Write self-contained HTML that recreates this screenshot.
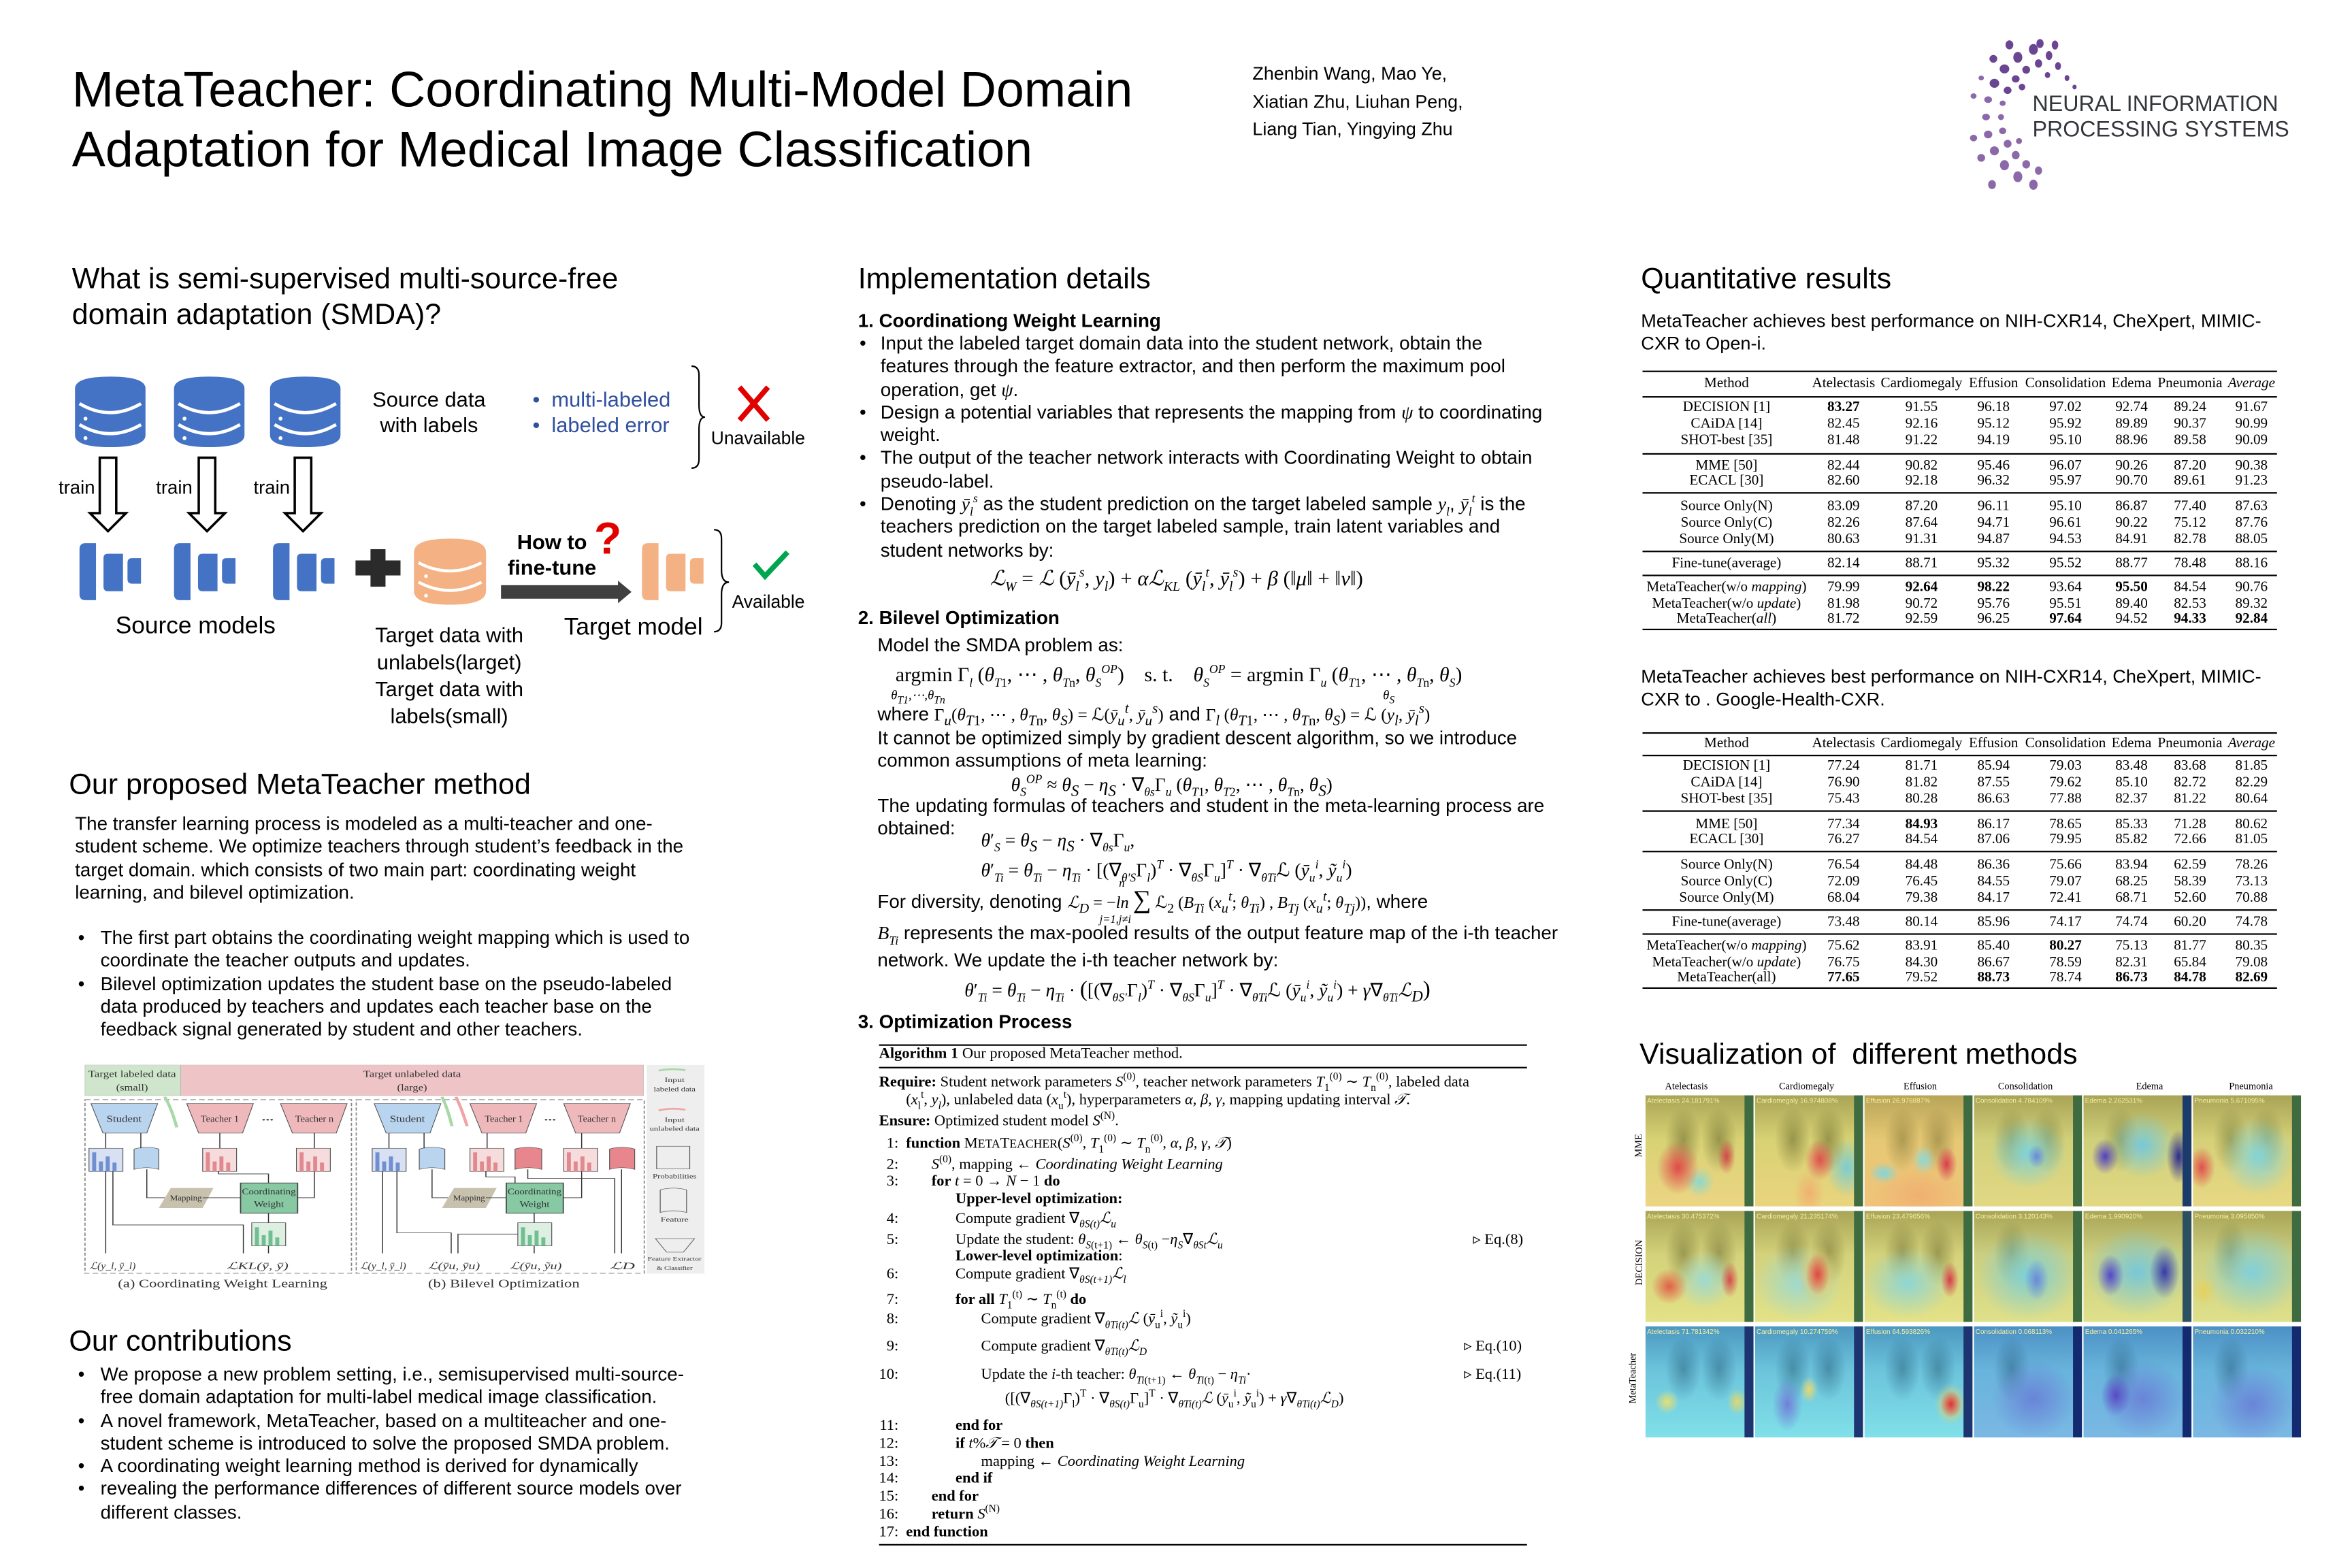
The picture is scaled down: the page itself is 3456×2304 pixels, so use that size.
<!DOCTYPE html>
<html><head><meta charset="utf-8">
<style>
html,body{margin:0;padding:0;background:#fff;}
body{width:3456px;height:2304px;overflow:hidden;position:relative;}
#p{position:absolute;left:0;top:0;width:1568px;height:1045px;transform:scale(2.2041,2.2048);transform-origin:0 0;font-family:"Liberation Sans",Arial,sans-serif;color:#000;}
sub,sup{line-height:0;}
.t{position:absolute;white-space:nowrap;}
.h{font-size:19.5px;line-height:24px;}
.b{font-size:12.6px;line-height:15.3px;}
.s{font-family:"Liberation Serif","Times New Roman",serif;}
.m{font-family:"Liberation Serif","Times New Roman",serif;font-style:italic;}
.tb{position:absolute;left:1095px;width:423px;}
.ln{position:absolute;left:0;width:423px;background:#000;}
.r{position:absolute;left:0;width:423px;height:11px;font-family:"Liberation Serif","Times New Roman",serif;font-size:9.6px;line-height:11px;}
.r i{position:absolute;font-style:normal;transform:translateX(-50%);white-space:nowrap;}
.c0{left:56px}.c1{left:134px}.c2{left:186px}.c3{left:234px}.c4{left:282px}.c5{left:326px}.c6{left:365px}.c7{left:406px}
.alg{font-family:"Liberation Serif","Times New Roman",serif;font-size:10.2px;line-height:12px;}
.n{position:absolute;width:16px;text-align:right;left:583px;}
.tile{position:absolute;width:72px;height:74px;overflow:hidden;}
.tile:after{content:"";position:absolute;right:0;top:0;width:6px;height:100%;background:var(--edge);}
.tl{position:absolute;left:1px;top:1px;font-size:4.5px;color:#f4f0a0;white-space:nowrap;}
</style></head><body><div id="p">

<!-- Header -->
<div class="t" style="left:48px;top:41px;font-size:33.4px;line-height:40px;">MetaTeacher: Coordinating Multi-Model Domain</div>
<div class="t" style="left:48px;top:81px;font-size:33.4px;line-height:40px;">Adaptation for Medical Image Classification</div>
<div class="t" style="left:835px;top:40px;font-size:12.2px;line-height:18.5px;">Zhenbin Wang, Mao Ye,<br>Xiatian Zhu, Liuhan Peng,<br>Liang Tian, Yingying Zhu</div>

<svg class="t" style="left:1300px;top:25px" width="110" height="110" viewBox="1300 25 110 110">
<g fill="#6a4592">
<ellipse cx="1355.6" cy="32.9" rx="3" ry="3.6"/><ellipse cx="1345.2" cy="38.2" rx="3" ry="3.6"/><ellipse cx="1336.3" cy="45.9" rx="3.2" ry="3"/><ellipse cx="1329.6" cy="55.5" rx="3.2" ry="3"/>
<ellipse cx="1359" cy="42.3" rx="2.4" ry="2.8"/><ellipse cx="1350.8" cy="46.5" rx="2.6" ry="2.6"/><ellipse cx="1343.8" cy="52.6" rx="2.6" ry="2.4"/><ellipse cx="1338.4" cy="60.2" rx="2.6" ry="2.4"/>
<ellipse cx="1339.6" cy="29.9" rx="2.6" ry="3"/><ellipse cx="1328.9" cy="39.2" rx="2.6" ry="2.6"/><ellipse cx="1366" cy="37" rx="2.2" ry="3"/><ellipse cx="1372" cy="44" rx="2" ry="2.6"/>
<ellipse cx="1365" cy="50" rx="1.8" ry="2"/><ellipse cx="1378" cy="52" rx="1.6" ry="2"/><ellipse cx="1383" cy="58" rx="1.4" ry="1.6"/><ellipse cx="1348" cy="58" rx="2.2" ry="2.2"/>
<ellipse cx="1370" cy="30" rx="2.2" ry="3"/><ellipse cx="1360" cy="29" rx="2.4" ry="3"/>
</g>
<g fill="#8b69a9">
<ellipse cx="1325.4" cy="66.4" rx="2.6" ry="2.2"/><ellipse cx="1324" cy="78" rx="2.6" ry="2.2"/><ellipse cx="1325.4" cy="89.6" rx="2.8" ry="2.6"/><ellipse cx="1329.6" cy="100.5" rx="3" ry="3"/>
<ellipse cx="1336.3" cy="110.1" rx="3" ry="3.4"/><ellipse cx="1345.2" cy="117.8" rx="3" ry="3.6"/><ellipse cx="1355.6" cy="123.1" rx="2.8" ry="3.4"/>
<ellipse cx="1335.1" cy="68.8" rx="2" ry="1.8"/><ellipse cx="1334" cy="78" rx="2" ry="2"/><ellipse cx="1335.1" cy="87.2" rx="2.4" ry="2.2"/><ellipse cx="1338.4" cy="95.8" rx="2.6" ry="2.6"/>
<ellipse cx="1343.8" cy="103.4" rx="2.6" ry="2.8"/><ellipse cx="1350.8" cy="109.5" rx="2.6" ry="2.8"/><ellipse cx="1359" cy="113.7" rx="2.4" ry="2.8"/>
<ellipse cx="1315.7" cy="92" rx="2.4" ry="2.2"/><ellipse cx="1320.8" cy="105.2" rx="2.6" ry="2.6"/><ellipse cx="1315.7" cy="64" rx="2" ry="1.8"/><ellipse cx="1320.8" cy="52" rx="1.8" ry="1.6"/>
<ellipse cx="1346" cy="94" rx="2" ry="2"/><ellipse cx="1328" cy="123" rx="2.6" ry="3"/>
</g></svg>
<div class="t" style="left:1355px;top:62px;font-size:14.6px;line-height:17px;color:#33363b;">NEURAL INFORMATION<br>PROCESSING SYSTEMS</div>

<!-- Column 1 -->
<div class="t h" style="left:48px;top:174px;">What is semi-supervised multi-source-free</div>
<div class="t h" style="left:48px;top:198px;">domain adaptation (SMDA)?</div>

<svg class="t" style="left:0;top:230px" width="560" height="270" viewBox="0 230 560 270">
<defs>
<g id="db"><path d="M0,8 Q0,0 23.5,0 Q47,0 47,8 L47,39 Q47,47 23.5,47 Q0,47 0,39 Z"/></g>
</defs>
<g fill="#4472c4">
<use href="#db" x="50" y="251"/><use href="#db" x="116" y="251"/><use href="#db" x="180" y="251"/>
</g>
<g fill="none" stroke="#fff" stroke-width="2.2">
<path d="M53,269 Q73.5,281 94,269"/><path d="M53,283 Q73.5,295 94,283"/>
<path d="M119,269 Q139.5,281 160,269"/><path d="M119,283 Q139.5,295 160,283"/>
<path d="M183,269 Q203.5,281 224,269"/><path d="M183,283 Q203.5,295 224,283"/>
</g>
<g fill="#fff"><circle cx="57" cy="279" r="1.3"/><circle cx="57" cy="292" r="1.3"/><circle cx="123" cy="279" r="1.3"/><circle cx="123" cy="292" r="1.3"/><circle cx="187" cy="279" r="1.3"/><circle cx="187" cy="292" r="1.3"/></g>
<g fill="#fff" stroke="#000" stroke-width="1.6">
<path d="M66.5,305 L77.5,305 L77.5,342 L84,342 L72,354 L60,342 L66.5,342 Z"/>
<path d="M132.5,305 L143.5,305 L143.5,342 L150,342 L138,354 L126,342 L132.5,342 Z"/>
<path d="M196.5,305 L207.5,305 L207.5,342 L214,342 L202,354 L190,342 L196.5,342 Z"/>
</g>
<g font-family="Liberation Sans,Arial,sans-serif" font-size="12.5" fill="#000">
<text x="39" y="329">train</text><text x="104" y="329">train</text><text x="169" y="329">train</text>
</g>
<g fill="#4472c4">
<path d="M57,362 L64,362 L64,400 L57,400 Q53,400 53,396 L53,366 Q53,362 57,362Z"/><path d="M72,369 L82,369 L82,394 L72,394 Q69,394 69,391 L69,372 Q69,369 72,369Z"/><path d="M88,372 L94,372 L94,389 L88,389 Q85,389 85,386 L85,375 Q85,372 88,372Z"/>
<path d="M120,362 L127,362 L127,400 L120,400 Q116,400 116,396 L116,366 Q116,362 120,362Z"/><path d="M135,369 L145,369 L145,394 L135,394 Q132,394 132,391 L132,372 Q132,369 135,369Z"/><path d="M151,372 L157,372 L157,389 L151,389 Q148,389 148,386 L148,375 Q148,372 151,372Z"/>
<path d="M186,362 L193,362 L193,400 L186,400 Q182,400 182,396 L182,366 Q182,362 186,362Z"/><path d="M201,369 L211,369 L211,394 L201,394 Q198,394 198,391 L198,372 Q198,369 201,369Z"/><path d="M217,372 L223,372 L223,389 L217,389 Q214,389 214,386 L214,375 Q214,372 217,372Z"/>
</g>
<g fill="#2b2b2b"><rect x="237" y="373.5" width="30" height="10"/><rect x="247" y="366" width="10" height="25"/></g>
<path d="M276,368 Q276,359 300,359 Q324,359 324,368 L324,394 Q324,403 300,403 Q276,403 276,394 Z" fill="#f4b183"/>
<g fill="none" stroke="#fff" stroke-width="2"><path d="M279,375 Q300,386 321,375"/><path d="M279,388 Q300,399 321,388"/></g>
<g fill="#fff"><circle cx="284" cy="384" r="1.2"/><circle cx="284" cy="397" r="1.2"/></g>
<path d="M334,390 L412,390 L412,387 L421,394.5 L412,402 L412,399 L334,399 Z" fill="#404040"/>
<g fill="#f4b183">
<path d="M432,362 L439,362 L439,400 L432,400 Q428,400 428,396 L428,366 Q428,362 432,362Z"/><path d="M447,369 L457,369 L457,394 L447,394 Q444,394 444,391 L444,372 Q444,369 447,369Z"/><path d="M463,372 L469,372 L469,389 L463,389 Q460,389 460,386 L460,375 Q460,372 463,372Z"/>
</g>
<g fill="none" stroke="#000" stroke-width="1">
<path d="M461,244 Q466,244 466,250 L466,270 Q466,278 470,278 Q466,278 466,286 L466,306 Q466,312 461,312"/>
<path d="M476,353 Q481,353 481,359 L481,380 Q481,388 486,388 Q481,388 481,396 L481,415 Q481,421 476,421"/>
</g>
<g stroke="#e00000" stroke-width="3.5"><path d="M493,258 L512,280"/><path d="M512,258 L493,280"/></g>
<path d="M503,376 L510,384 L525,368" fill="none" stroke="#00a550" stroke-width="3.5"/>
</svg>
<div class="t" style="left:245px;top:258px;font-size:14px;line-height:17px;text-align:center;width:82px;">Source data<br>with labels</div>
<div class="t" style="left:355px;top:258px;font-size:14px;line-height:17px;color:#2f4f9f;">•&nbsp;&nbsp;multi-labeled<br>•&nbsp;&nbsp;labeled error</div>
<div class="t" style="left:474px;top:285px;font-size:12px;line-height:15px;">Unavailable</div>
<div class="t" style="left:488px;top:394px;font-size:12px;line-height:15px;">Available</div>
<div class="t" style="left:337px;top:353px;font-size:14px;line-height:17px;font-weight:bold;text-align:center;width:62px;">How to<br>fine-tune</div>
<div class="t" style="left:396px;top:343px;font-size:30px;line-height:34px;font-weight:bold;color:#e00000;">?</div>
<div class="t" style="left:77px;top:408px;font-size:16px;line-height:20px;">Source models</div>
<div class="t" style="left:241px;top:414px;font-size:14px;line-height:18px;text-align:center;width:117px;">Target data with<br>unlabels(larget)<br>Target data with<br>labels(small)</div>
<div class="t" style="left:376px;top:409px;font-size:16px;line-height:20px;">Target model</div>

<div class="t h" style="left:46px;top:511px;">Our proposed MetaTeacher method</div>
<div class="t b" style="left:50px;top:542px;">The transfer learning process is modeled as a multi-teacher and one-<br>student scheme. We optimize teachers through student’s feedback in the<br>target domain. which consists of two main part: coordinating weight<br>learning, and bilevel optimization.</div>
<div class="t b" style="left:52px;top:618px;">•<br><br>•</div>
<div class="t b" style="left:67px;top:618px;">The first part obtains the coordinating weight mapping which is used to<br>coordinate the teacher outputs and updates.<br>Bilevel optimization updates the student base on the pseudo-labeled<br>data produced by teachers and updates each teacher base on the<br>feedback signal generated by student and other teachers.</div>

<!-- figure -->
<svg class="t" style="left:54.4px;top:705.5px" width="417" height="156.5" viewBox="0 0 1568 1035" preserveAspectRatio="none">
<rect x="10" y="25" width="240" height="135" fill="#cfe6cc" stroke="#aaa"/>
<rect x="250" y="25" width="1160" height="135" fill="#efc4c6" stroke="#aaa"/>
<rect x="1418" y="25" width="145" height="920" fill="#eeeeee"/>
<rect x="10" y="178" width="668" height="765" fill="none" stroke="#888" stroke-width="3" stroke-dasharray="14,8"/>
<rect x="690" y="178" width="722" height="765" fill="none" stroke="#888" stroke-width="3" stroke-dasharray="14,8"/>
<g fill="#b9d4ef" stroke="#555" stroke-width="2"><path d="M25,195 L192,195 L165,325 L55,325Z"/><path d="M735,195 L902,195 L875,325 L765,325Z"/></g>
<g fill="#efb9bb" stroke="#555" stroke-width="2"><path d="M265,195 L432,195 L405,325 L295,325Z"/><path d="M500,195 L667,195 L640,325 L530,325Z"/><path d="M975,195 L1142,195 L1115,325 L1005,325Z"/><path d="M1210,195 L1377,195 L1350,325 L1240,325Z"/></g>
<g fill="#d8e0f3" stroke="#555" stroke-width="2"><rect x="20" y="392" width="85" height="102"/><rect x="730" y="392" width="85" height="102"/></g>
<g fill="#f7dcdd" stroke="#555" stroke-width="2"><rect x="305" y="392" width="85" height="102"/><rect x="540" y="392" width="85" height="102"/><rect x="975" y="392" width="85" height="102"/><rect x="1210" y="392" width="85" height="102"/></g>
<g fill="#dcefe0" stroke="#555" stroke-width="2"><rect x="428" y="720" width="85" height="102"/><rect x="1095" y="720" width="85" height="102"/></g>
<g fill="#6f8fd0"><rect x="28" y="410" width="10" height="84"/><rect x="45" y="450" width="10" height="44"/><rect x="62" y="428" width="10" height="66"/><rect x="79" y="455" width="10" height="39"/><rect x="738" y="410" width="10" height="84"/><rect x="755" y="450" width="10" height="44"/><rect x="772" y="428" width="10" height="66"/><rect x="789" y="455" width="10" height="39"/></g>
<g fill="#e08a90"><rect x="313" y="410" width="10" height="84"/><rect x="330" y="450" width="10" height="44"/><rect x="347" y="428" width="10" height="66"/><rect x="364" y="455" width="10" height="39"/><rect x="548" y="410" width="10" height="84"/><rect x="565" y="450" width="10" height="44"/><rect x="582" y="428" width="10" height="66"/><rect x="599" y="455" width="10" height="39"/><rect x="983" y="410" width="10" height="84"/><rect x="1000" y="450" width="10" height="44"/><rect x="1017" y="428" width="10" height="66"/><rect x="1034" y="455" width="10" height="39"/><rect x="1218" y="410" width="10" height="84"/><rect x="1235" y="450" width="10" height="44"/><rect x="1252" y="428" width="10" height="66"/><rect x="1269" y="455" width="10" height="39"/></g>
<g fill="#6fbf93"><rect x="436" y="740" width="10" height="82"/><rect x="453" y="775" width="10" height="47"/><rect x="470" y="755" width="10" height="67"/><rect x="487" y="785" width="10" height="37"/><rect x="1103" y="740" width="10" height="82"/><rect x="1120" y="775" width="10" height="47"/><rect x="1137" y="755" width="10" height="67"/><rect x="1154" y="785" width="10" height="37"/></g>
<g fill="#b9d4ef" stroke="#555" stroke-width="2"><path d="M133,395 Q165,380 195,395 L195,485 Q165,470 133,485Z"/><path d="M848,395 Q880,380 912,395 L912,485 Q880,470 848,485Z"/></g>
<g fill="#e8868e" stroke="#555" stroke-width="2"><path d="M1088,395 Q1120,380 1155,395 L1155,485 Q1120,470 1088,485Z"/><path d="M1325,395 Q1355,380 1388,395 L1388,485 Q1355,470 1325,485Z"/></g>
<g fill="#c7c1ad"><path d="M225,567 L332,567 L305,655 L195,655Z"/><path d="M935,567 L1042,567 L1015,655 L905,655Z"/></g>
<g fill="#86c9a2" stroke="#444" stroke-width="3"><rect x="400" y="545" width="143" height="133"/><rect x="1066" y="545" width="143" height="133"/></g>
<g fill="none" stroke="#333" stroke-width="2.5">
<path d="M62,325 V392 M150,325 V392 M348,325 V392 M585,325 V392 M62,494 V855 M80,494 V730 H407 V855 M165,485 V610 H210 M305,610 H400 M345,494 V505 H470 V545 M585,494 V610 H543 M470,678 V720 M470,822 V855"/>
<path d="M772,325 V392 M860,325 V392 M1018,325 V392 M1255,325 V392 M756,494 V855 M792,494 V765 H928 V855 M880,485 V610 H920 M1015,610 H1066 M1015,494 V518 H1088 V545 M1120,485 V525 H1338 V855 M1255,494 V610 H1209 M1136,678 V720 M1136,822 V855 M1095,770 H945 V855 M1355,485 V855"/>
</g>
<g font-family="Liberation Serif,Times New Roman,serif" fill="#333">
<text x="128" y="78" font-size="42" text-anchor="middle" textLength="220" lengthAdjust="spacingAndGlyphs">Target labeled data</text>
<text x="128" y="138" font-size="42" text-anchor="middle" textLength="80" lengthAdjust="spacingAndGlyphs">(small)</text>
<text x="830" y="78" font-size="42" text-anchor="middle" textLength="245" lengthAdjust="spacingAndGlyphs">Target unlabeled data</text>
<text x="830" y="138" font-size="42" text-anchor="middle" textLength="75" lengthAdjust="spacingAndGlyphs">(large)</text>
<text x="108" y="275" font-size="40" text-anchor="middle" textLength="88" lengthAdjust="spacingAndGlyphs">Student</text>
<text x="348" y="275" font-size="40" text-anchor="middle" textLength="96" lengthAdjust="spacingAndGlyphs">Teacher 1</text>
<text x="585" y="275" font-size="40" text-anchor="middle" textLength="96" lengthAdjust="spacingAndGlyphs">Teacher n</text>
<text x="818" y="275" font-size="40" text-anchor="middle" textLength="88" lengthAdjust="spacingAndGlyphs">Student</text>
<text x="1060" y="275" font-size="40" text-anchor="middle" textLength="96" lengthAdjust="spacingAndGlyphs">Teacher 1</text>
<text x="1293" y="275" font-size="40" text-anchor="middle" textLength="96" lengthAdjust="spacingAndGlyphs">Teacher n</text>
<text x="468" y="270" font-size="40" text-anchor="middle" font-weight="bold">...</text>
<text x="1176" y="270" font-size="40" text-anchor="middle" font-weight="bold">...</text>
<text x="263" y="622" font-size="34" text-anchor="middle" textLength="80" lengthAdjust="spacingAndGlyphs">Mapping</text>
<text x="973" y="622" font-size="34" text-anchor="middle" textLength="80" lengthAdjust="spacingAndGlyphs">Mapping</text>
<text x="471" y="595" font-size="38" text-anchor="middle" textLength="135" lengthAdjust="spacingAndGlyphs">Coordinating</text>
<text x="471" y="650" font-size="38" text-anchor="middle" textLength="75" lengthAdjust="spacingAndGlyphs">Weight</text>
<text x="1137" y="595" font-size="38" text-anchor="middle" textLength="135" lengthAdjust="spacingAndGlyphs">Coordinating</text>
<text x="1137" y="650" font-size="38" text-anchor="middle" textLength="75" lengthAdjust="spacingAndGlyphs">Weight</text>
<text x="22" y="925" font-size="44" font-style="italic" textLength="115" lengthAdjust="spacingAndGlyphs">ℒ(y_l, ȳ_l)</text>
<text x="365" y="925" font-size="44" font-style="italic" textLength="155" lengthAdjust="spacingAndGlyphs">ℒKL(ȳ, ȳ)</text>
<text x="700" y="925" font-size="44" font-style="italic" textLength="115" lengthAdjust="spacingAndGlyphs">ℒ(y_l, ȳ_l)</text>
<text x="870" y="925" font-size="44" font-style="italic" textLength="130" lengthAdjust="spacingAndGlyphs">ℒ(ȳu, ȳu)</text>
<text x="1075" y="925" font-size="44" font-style="italic" textLength="130" lengthAdjust="spacingAndGlyphs">ℒ(ȳu, ỹu)</text>
<text x="1325" y="925" font-size="44" font-style="italic">ℒD</text>
<text x="355" y="1005" font-size="52" text-anchor="middle" textLength="525" lengthAdjust="spacingAndGlyphs">(a) Coordinating Weight Learning</text>
<text x="1060" y="1005" font-size="52" text-anchor="middle" textLength="380" lengthAdjust="spacingAndGlyphs">(b) Bilevel Optimization</text>
<text x="1488" y="100" font-size="28" text-anchor="middle" textLength="50" lengthAdjust="spacingAndGlyphs">Input</text>
<text x="1488" y="140" font-size="28" text-anchor="middle" textLength="105" lengthAdjust="spacingAndGlyphs">labeled data</text>
<text x="1488" y="275" font-size="28" text-anchor="middle" textLength="50" lengthAdjust="spacingAndGlyphs">Input</text>
<text x="1488" y="315" font-size="28" text-anchor="middle" textLength="125" lengthAdjust="spacingAndGlyphs">unlabeled data</text>
<text x="1488" y="525" font-size="28" text-anchor="middle" textLength="110" lengthAdjust="spacingAndGlyphs">Probabilities</text>
<text x="1488" y="715" font-size="28" text-anchor="middle" textLength="70" lengthAdjust="spacingAndGlyphs">Feature</text>
<text x="1488" y="888" font-size="26" text-anchor="middle" textLength="135" lengthAdjust="spacingAndGlyphs">Feature Extractor</text>
<text x="1488" y="928" font-size="26" text-anchor="middle" textLength="90" lengthAdjust="spacingAndGlyphs">&amp; Classifier</text>
</g>
<g fill="none" stroke="#555" stroke-width="2"><rect x="1443" y="383" width="83" height="100"/><path d="M1452,575 Q1485,560 1518,575 L1518,675 Q1485,660 1452,675Z"/><path d="M1440,790 L1538,790 L1510,850 L1468,850Z"/></g>
<g stroke="#a7d8a6" stroke-width="8" fill="none"><path d="M1448,50 Q1480,38 1515,48"/><path d="M210,165 Q228,220 240,300"/><path d="M905,165 Q920,220 930,295"/></g>
<g stroke="#f0a4a6" stroke-width="8" fill="none"><path d="M1448,225 Q1480,212 1515,222"/><path d="M940,165 Q955,220 968,295"/></g>
</svg>

<div class="t h" style="left:46px;top:882px;">Our contributions</div>
<div class="t b" style="left:52px;top:909px;">•<br><br>•<br><br>•<br>•</div>
<div class="t b" style="left:67px;top:909px;">We propose a new problem setting, i.e., semisupervised multi-source-<br>free domain adaptation for multi-label medical image classification.<br>A novel framework, MetaTeacher, based on a multiteacher and one-<br>student scheme is introduced to solve the proposed SMDA problem.<br>A coordinating weight learning method is derived for dynamically<br>revealing the performance differences of different source models over<br>different classes.</div>

<!-- Column 2 -->
<div class="t h" style="left:572px;top:174px;">Implementation details</div>
<div class="t b" style="left:572px;top:207px;font-weight:bold;">1. Coordinationg Weight Learning</div>
<div class="t b" style="left:573px;top:222px;">•<br><br><br>•<br><br>•<br><br>•</div>
<div class="t b" style="left:587px;top:222px;">Input the labeled target domain data into the student network, obtain the<br>features through the feature extractor, and then perform the maximum pool<br>operation, get <span class="m">ψ</span>.<br>Design a potential variables that represents the mapping from <span class="m">ψ</span> to coordinating<br>weight.<br>The output of the teacher network interacts with Coordinating Weight to obtain<br>pseudo-label.<br>Denoting <span class="m">ȳ<sub style="font-size:8px">l</sub><sup style="font-size:8px">s</sup></span> as the student prediction on the target labeled sample <span class="m">y<sub style="font-size:8px">l</sub></span>, <span class="m">ȳ<sub style="font-size:8px">l</sub><sup style="font-size:8px">t</sup></span> is the<br>teachers prediction on the target labeled sample, train latent variables and<br>student networks by:</div>
<div class="t m" style="left:660px;top:378px;font-size:14px;line-height:18px;">ℒ<sub style="font-size:9px">W</sub> <span style="font-style:normal">=</span> ℒ <span style="font-style:normal">(</span>ȳ<sub style="font-size:9px">l</sub><sup style="font-size:9px">s</sup>, y<sub style="font-size:9px">l</sub><span style="font-style:normal">) +</span> αℒ<sub style="font-size:9px">KL</sub> <span style="font-style:normal">(</span>ȳ<sub style="font-size:9px">l</sub><sup style="font-size:9px">t</sup>, ȳ<sub style="font-size:9px">l</sub><sup style="font-size:9px">s</sup><span style="font-style:normal">) +</span> β <span style="font-style:normal">(‖</span>μ<span style="font-style:normal">‖ + ‖</span>ν<span style="font-style:normal">‖)</span></div>

<div class="t b" style="left:572px;top:405px;font-weight:bold;">2. Bilevel Optimization</div>
<div class="t b" style="left:585px;top:423px;">Model the SMDA problem as:</div>
<div class="t s" style="left:597px;top:441px;font-size:13.5px;line-height:18px;">argmin Γ<sub class="m" style="font-size:8px">l</sub> (<i>θ</i><sub style="font-size:8px"><i>T</i>1</sub>, ⋯ , <i>θ</i><sub style="font-size:8px"><i>T</i>n</sub>, <i>θ</i><sub style="font-size:8px"><i>S</i></sub><sup style="font-size:8px"><i>OP</i></sup>)&nbsp;&nbsp;&nbsp; s. t.&nbsp;&nbsp;&nbsp; <i>θ</i><sub style="font-size:8px"><i>S</i></sub><sup style="font-size:8px"><i>OP</i></sup> = argmin Γ<sub style="font-size:8px"><i>u</i></sub> (<i>θ</i><sub style="font-size:8px"><i>T</i>1</sub>, ⋯ , <i>θ</i><sub style="font-size:8px"><i>T</i>n</sub>, <i>θ</i><sub style="font-size:8px"><i>S</i></sub>)</div>
<div class="t m" style="left:594px;top:458px;font-size:8.5px;line-height:10px;">θ<sub>T1</sub>,⋯,θ<sub>Tn</sub></div>
<div class="t m" style="left:922px;top:458px;font-size:8.5px;line-height:10px;">θ<sub>S</sub></div>
<div class="t b" style="left:585px;top:469px;">where <span class="s" style="font-size:11.5px">Γ<sub><i>u</i></sub>(<i>θ</i><sub><i>T</i>1</sub>, ⋯ , <i>θ</i><sub><i>T</i>n</sub>, <i>θ</i><sub><i>S</i></sub>) = ℒ(<i>ȳ</i><sub><i>u</i></sub><sup><i>t</i></sup>, <i>ȳ</i><sub><i>u</i></sub><sup><i>s</i></sup>)</span> and <span class="s" style="font-size:11.5px">Γ<sub><i>l</i></sub> (<i>θ</i><sub><i>T</i>1</sub>, ⋯ , <i>θ</i><sub><i>T</i>n</sub>, <i>θ</i><sub><i>S</i></sub>) = ℒ (<i>y<sub>l</sub></i>, <i>ȳ</i><sub><i>l</i></sub><sup><i>s</i></sup>)</span></div>
<div class="t b" style="left:585px;top:485px;">It cannot be optimized simply by gradient descent algorithm, so we introduce<br>common assumptions of meta learning:</div>
<div class="t s" style="left:674px;top:515px;font-size:12.5px;line-height:16px;"><i>θ</i><sub style="font-size:8px"><i>S</i></sub><sup style="font-size:8px"><i>OP</i></sup> ≈ <i>θ<sub>S</sub></i> − <i>η<sub>S</sub></i> · ∇<sub style="font-size:8px"><i>θs</i></sub>Γ<sub style="font-size:8px"><i>u</i></sub> (<i>θ</i><sub style="font-size:8px"><i>T</i>1</sub>, <i>θ</i><sub style="font-size:8px"><i>T</i>2</sub>, ⋯ , <i>θ</i><sub style="font-size:8px"><i>T</i>n</sub>, <i>θ<sub>S</sub></i>)</div>
<div class="t b" style="left:585px;top:530px;">The updating formulas of teachers and student in the meta-learning process are<br>obtained:</div>
<div class="t s" style="left:654px;top:552px;font-size:12.5px;line-height:16px;"><i>θ</i>′<sub style="font-size:8px"><i>S</i></sub> = <i>θ<sub>S</sub></i> − <i>η<sub>S</sub></i> · ∇<sub style="font-size:8px"><i>θs</i></sub>Γ<sub style="font-size:8px"><i>u</i></sub>,</div>
<div class="t s" style="left:654px;top:572px;font-size:12.5px;line-height:16px;"><i>θ</i>′<sub style="font-size:8px"><i>Ti</i></sub> = <i>θ</i><sub style="font-size:8px"><i>Ti</i></sub> − <i>η</i><sub style="font-size:8px"><i>Ti</i></sub> · [(∇<sub style="font-size:8px"><i>θ′S</i></sub>Γ<sub style="font-size:8px"><i>l</i></sub>)<sup style="font-size:8px"><i>T</i></sup> · ∇<sub style="font-size:8px"><i>θS</i></sub>Γ<sub style="font-size:8px"><i>u</i></sub>]<sup style="font-size:8px"><i>T</i></sup> · ∇<sub style="font-size:8px"><i>θTi</i></sub>ℒ (<i>ȳ</i><sub style="font-size:8px"><i>u</i></sub><sup style="font-size:8px"><i>i</i></sup>, <i>ỹ</i><sub style="font-size:8px"><i>u</i></sub><sup style="font-size:8px"><i>i</i></sup>)</div>
<div class="t b" style="left:585px;top:592px;">For diversity, denoting <span class="s" style="font-size:11px"><i>ℒ<sub>D</sub></i> = −<i>ln</i> <span style="font-size:17px">∑</span> ℒ<sub>2</sub> (<i>B</i><sub><i>Ti</i></sub> (<i>x</i><sub><i>u</i></sub><sup><i>t</i></sup>; <i>θ</i><sub><i>Ti</i></sub>) , <i>B</i><sub><i>Tj</i></sub> (<i>x</i><sub><i>u</i></sub><sup><i>t</i></sup>; <i>θ</i><sub><i>Tj</i></sub>))</span>, where</div>
<div class="t m" style="left:746px;top:585px;font-size:7.5px;line-height:8px;">n</div>
<div class="t m" style="left:733px;top:609px;font-size:7.5px;line-height:8px;">j=1,j≠i</div>
<div class="t b" style="left:585px;top:615px;"><span class="m">B<sub style="font-size:8px">Ti</sub></span> represents the max-pooled results of the output feature map of the i-th teacher</div>
<div class="t b" style="left:585px;top:633px;">network. We update the i-th teacher network by:</div>
<div class="t s" style="left:643px;top:652px;font-size:12.5px;line-height:17px;"><i>θ</i>′<sub style="font-size:8px"><i>Ti</i></sub> = <i>θ</i><sub style="font-size:8px"><i>Ti</i></sub> − <i>η</i><sub style="font-size:8px"><i>Ti</i></sub> · <span style="font-size:15px">(</span>[(∇<sub style="font-size:8px"><i>θS′</i></sub>Γ<sub style="font-size:8px"><i>l</i></sub>)<sup style="font-size:8px"><i>T</i></sup> · ∇<sub style="font-size:8px"><i>θS</i></sub>Γ<sub style="font-size:8px"><i>u</i></sub>]<sup style="font-size:8px"><i>T</i></sup> · ∇<sub style="font-size:8px"><i>θTi</i></sub>ℒ (<i>ȳ</i><sub style="font-size:8px"><i>u</i></sub><sup style="font-size:8px"><i>i</i></sup>, <i>ỹ</i><sub style="font-size:8px"><i>u</i></sub><sup style="font-size:8px"><i>i</i></sup>) + <i>γ</i>∇<sub style="font-size:8px"><i>θTi</i></sub><i>ℒ<sub>D</sub></i><span style="font-size:15px">)</span></div>

<div class="t b" style="left:572px;top:674px;font-weight:bold;">3. Optimization Process</div>
<div class="t" style="left:586px;top:696px;width:432px;height:1.3px;background:#000;"></div>
<div class="t alg" style="left:586px;top:697px;"><b>Algorithm 1</b> Our proposed MetaTeacher method.</div>
<div class="t" style="left:586px;top:711px;width:432px;height:0.8px;background:#000;"></div>
<div class="t alg" style="left:586px;top:716px;"><b>Require:</b> Student network parameters <i>S</i><sup style="font-size:7px">(0)</sup>, teacher network parameters <i>T</i><sub style="font-size:7px">1</sub><sup style="font-size:7px">(0)</sup> ∼ <i>T</i><sub style="font-size:7px">n</sub><sup style="font-size:7px">(0)</sup>, labeled data</div>
<div class="t alg" style="left:604px;top:728px;">(<i>x</i><sub style="font-size:7px">l</sub><sup style="font-size:7px">t</sup>, <i>y<sub style="font-size:7px">l</sub></i>), unlabeled data (<i>x</i><sub style="font-size:7px">u</sub><sup style="font-size:7px">t</sup>), hyperparameters <i>α, β, γ</i>, mapping updating interval <i>𝒯</i>.</div>
<div class="t alg" style="left:586px;top:742px;"><b>Ensure:</b> Optimized student model <i>S</i><sup style="font-size:7px">(N)</sup>.</div>
<div class="t alg n" style="top:757px;">1:</div><div class="t alg" style="left:604px;top:757px;"><b>function</b> M<span style="font-size:8px">ETA</span>T<span style="font-size:8px">EACHER</span>(<i>S</i><sup style="font-size:7px">(0)</sup>, <i>T</i><sub style="font-size:7px">1</sub><sup style="font-size:7px">(0)</sup> ∼ <i>T</i><sub style="font-size:7px">n</sub><sup style="font-size:7px">(0)</sup>, <i>α, β, γ, 𝒯</i>)</div>
<div class="t alg n" style="top:771px;">2:</div><div class="t alg" style="left:621px;top:771px;"><i>S</i><sup style="font-size:7px">(0)</sup>, mapping ← <i>Coordinating Weight Learning</i></div>
<div class="t alg n" style="top:782px;">3:</div><div class="t alg" style="left:621px;top:782px;"><b>for</b> <i>t</i> = 0 → <i>N</i> − 1 <b>do</b></div>
<div class="t alg" style="left:637px;top:794px;"><b>Upper-level optimization:</b></div>
<div class="t alg n" style="top:807px;">4:</div><div class="t alg" style="left:637px;top:807px;">Compute gradient ∇<sub style="font-size:7px"><i>θS(t)</i></sub><i>ℒ<sub style="font-size:7px">u</sub></i></div>
<div class="t alg n" style="top:821px;">5:</div><div class="t alg" style="left:637px;top:821px;">Update the student: <i>θ</i><sub style="font-size:7px"><i>S</i>(t+1)</sub> ← <i>θ</i><sub style="font-size:7px"><i>S</i>(t)</sub> −<i>η<sub style="font-size:7px">S</sub></i>∇<sub style="font-size:7px"><i>θSt</i></sub><i>ℒ<sub style="font-size:7px">u</sub></i></div>
<div class="t alg" style="left:982px;top:821px;">▹ Eq.(8)</div>
<div class="t alg" style="left:637px;top:832px;"><b>Lower-level optimization</b>:</div>
<div class="t alg n" style="top:844px;">6:</div><div class="t alg" style="left:637px;top:844px;">Compute gradient ∇<sub style="font-size:7px"><i>θS(t+1)</i></sub><i>ℒ<sub style="font-size:7px">l</sub></i></div>
<div class="t alg n" style="top:861px;">7:</div><div class="t alg" style="left:637px;top:861px;"><b>for all</b> <i>T</i><sub style="font-size:7px">1</sub><sup style="font-size:7px">(t)</sup> ∼ <i>T</i><sub style="font-size:7px">n</sub><sup style="font-size:7px">(t)</sup> <b>do</b></div>
<div class="t alg n" style="top:874px;">8:</div><div class="t alg" style="left:654px;top:874px;">Compute gradient ∇<sub style="font-size:7px"><i>θTi(t)</i></sub><i>ℒ</i> (<i>ȳ</i><sub style="font-size:7px">u</sub><sup style="font-size:7px">i</sup>, <i>ỹ</i><sub style="font-size:7px">u</sub><sup style="font-size:7px">i</sup>)</div>
<div class="t alg n" style="top:892px;">9:</div><div class="t alg" style="left:654px;top:892px;">Compute gradient ∇<sub style="font-size:7px"><i>θTi(t)</i></sub><i>ℒ<sub style="font-size:7px">D</sub></i></div>
<div class="t alg" style="left:976px;top:892px;">▹ Eq.(10)</div>
<div class="t alg n" style="top:911px;">10:</div><div class="t alg" style="left:654px;top:911px;">Update the <i>i</i>-th teacher: <i>θ</i><sub style="font-size:7px"><i>Ti</i>(t+1)</sub> ← <i>θ</i><sub style="font-size:7px"><i>Ti</i>(t)</sub> − <i>η</i><sub style="font-size:7px"><i>Ti</i></sub>·</div>
<div class="t alg" style="left:976px;top:911px;">▹ Eq.(11)</div>
<div class="t alg" style="left:670px;top:927px;">([(∇<sub style="font-size:7px"><i>θS(t+1)</i></sub>Γ<sub style="font-size:7px">l</sub>)<sup style="font-size:7px">T</sup> · ∇<sub style="font-size:7px"><i>θS(t)</i></sub>Γ<sub style="font-size:7px">u</sub>]<sup style="font-size:7px">T</sup> · ∇<sub style="font-size:7px"><i>θTi(t)</i></sub><i>ℒ</i> (<i>ȳ</i><sub style="font-size:7px">u</sub><sup style="font-size:7px">i</sup>, <i>ỹ</i><sub style="font-size:7px">u</sub><sup style="font-size:7px">i</sup>) + <i>γ</i>∇<sub style="font-size:7px"><i>θTi(t)</i></sub><i>ℒ<sub style="font-size:7px">D</sub></i>)</div>
<div class="t alg n" style="top:945px;">11:</div><div class="t alg" style="left:637px;top:945px;"><b>end for</b></div>
<div class="t alg n" style="top:957px;">12:</div><div class="t alg" style="left:637px;top:957px;"><b>if</b> <i>t</i>%<i>𝒯</i> = 0 <b>then</b></div>
<div class="t alg n" style="top:969px;">13:</div><div class="t alg" style="left:654px;top:969px;">mapping ← <i>Coordinating Weight Learning</i></div>
<div class="t alg n" style="top:980px;">14:</div><div class="t alg" style="left:637px;top:980px;"><b>end if</b></div>
<div class="t alg n" style="top:992px;">15:</div><div class="t alg" style="left:621px;top:992px;"><b>end for</b></div>
<div class="t alg n" style="top:1004px;">16:</div><div class="t alg" style="left:621px;top:1004px;"><b>return</b> <i>S</i><sup style="font-size:7px">(N)</sup></div>
<div class="t alg n" style="top:1016px;">17:</div><div class="t alg" style="left:604px;top:1016px;"><b>end function</b></div>
<div class="t" style="left:586px;top:1029px;width:432px;height:0.8px;background:#000;"></div>

<!-- Column 3 -->
<div class="t h" style="left:1094px;top:174px;">Quantitative results</div>
<div class="t" style="left:1094px;top:207px;font-size:12.3px;line-height:15.3px;">MetaTeacher achieves best performance on NIH-CXR14, CheXpert, MIMIC-<br>CXR to Open-i.</div>

<div class="tb" style="top:247px;">
<div class="ln" style="top:0;height:1.4px"></div><div class="ln" style="top:17px;height:1px"></div><div class="ln" style="top:55px;height:1px"></div><div class="ln" style="top:81px;height:1px"></div><div class="ln" style="top:120px;height:1px"></div><div class="ln" style="top:136px;height:1px"></div><div class="ln" style="top:172px;height:1.4px"></div>
<div class="r" style="top:3px"><i class="c0">Method</i><i class="c1">Atelectasis</i><i class="c2">Cardiomegaly</i><i class="c3">Effusion</i><i class="c4">Consolidation</i><i class="c5">Edema</i><i class="c6">Pneumonia</i><i class="c7" style="font-style:italic">Average</i></div>
<div class="r" style="top:19px"><i class="c0">DECISION [1]</i><i class="c1"><b>83.27</b></i><i class="c2">91.55</i><i class="c3">96.18</i><i class="c4">97.02</i><i class="c5">92.74</i><i class="c6">89.24</i><i class="c7">91.67</i></div>
<div class="r" style="top:30px"><i class="c0">CAiDA [14]</i><i class="c1">82.45</i><i class="c2">92.16</i><i class="c3">95.12</i><i class="c4">95.92</i><i class="c5">89.89</i><i class="c6">90.37</i><i class="c7">90.99</i></div>
<div class="r" style="top:41px"><i class="c0">SHOT-best [35]</i><i class="c1">81.48</i><i class="c2">91.22</i><i class="c3">94.19</i><i class="c4">95.10</i><i class="c5">88.96</i><i class="c6">89.58</i><i class="c7">90.09</i></div>
<div class="r" style="top:58px"><i class="c0">MME [50]</i><i class="c1">82.44</i><i class="c2">90.82</i><i class="c3">95.46</i><i class="c4">96.07</i><i class="c5">90.26</i><i class="c6">87.20</i><i class="c7">90.38</i></div>
<div class="r" style="top:68px"><i class="c0">ECACL [30]</i><i class="c1">82.60</i><i class="c2">92.18</i><i class="c3">96.32</i><i class="c4">95.97</i><i class="c5">90.70</i><i class="c6">89.61</i><i class="c7">91.23</i></div>
<div class="r" style="top:85px"><i class="c0">Source Only(N)</i><i class="c1">83.09</i><i class="c2">87.20</i><i class="c3">96.11</i><i class="c4">95.10</i><i class="c5">86.87</i><i class="c6">77.40</i><i class="c7">87.63</i></div>
<div class="r" style="top:96px"><i class="c0">Source Only(C)</i><i class="c1">82.26</i><i class="c2">87.64</i><i class="c3">94.71</i><i class="c4">96.61</i><i class="c5">90.22</i><i class="c6">75.12</i><i class="c7">87.76</i></div>
<div class="r" style="top:107px"><i class="c0">Source Only(M)</i><i class="c1">80.63</i><i class="c2">91.31</i><i class="c3">94.87</i><i class="c4">94.53</i><i class="c5">84.91</i><i class="c6">82.78</i><i class="c7">88.05</i></div>
<div class="r" style="top:123px"><i class="c0">Fine-tune(average)</i><i class="c1">82.14</i><i class="c2">88.71</i><i class="c3">95.32</i><i class="c4">95.52</i><i class="c5">88.77</i><i class="c6">78.48</i><i class="c7">88.16</i></div>
<div class="r" style="top:139px"><i class="c0">MetaTeacher(w/o <em>mapping</em>)</i><i class="c1">79.99</i><i class="c2"><b>92.64</b></i><i class="c3"><b>98.22</b></i><i class="c4">93.64</i><i class="c5"><b>95.50</b></i><i class="c6">84.54</i><i class="c7">90.76</i></div>
<div class="r" style="top:150px"><i class="c0">MetaTeacher(w/o <em>update</em>)</i><i class="c1">81.98</i><i class="c2">90.72</i><i class="c3">95.76</i><i class="c4">95.51</i><i class="c5">89.40</i><i class="c6">82.53</i><i class="c7">89.32</i></div>
<div class="r" style="top:160px"><i class="c0">MetaTeacher(<em>all</em>)</i><i class="c1">81.72</i><i class="c2">92.59</i><i class="c3">96.25</i><i class="c4"><b>97.64</b></i><i class="c5">94.52</i><i class="c6"><b>94.33</b></i><i class="c7"><b>92.84</b></i></div>
</div>

<div class="t" style="left:1094px;top:444px;font-size:12.3px;line-height:15.3px;">MetaTeacher achieves best performance on NIH-CXR14, CheXpert, MIMIC-<br>CXR to . Google-Health-CXR.</div>

<div class="tb" style="top:488px;">
<div class="ln" style="top:0;height:1.4px"></div><div class="ln" style="top:15px;height:1px"></div><div class="ln" style="top:52px;height:1px"></div><div class="ln" style="top:79px;height:1px"></div><div class="ln" style="top:118px;height:1px"></div><div class="ln" style="top:134px;height:1px"></div><div class="ln" style="top:170px;height:1.4px"></div>
<div class="r" style="top:2px"><i class="c0">Method</i><i class="c1">Atelectasis</i><i class="c2">Cardiomegaly</i><i class="c3">Effusion</i><i class="c4">Consolidation</i><i class="c5">Edema</i><i class="c6">Pneumonia</i><i class="c7" style="font-style:italic">Average</i></div>
<div class="r" style="top:17px"><i class="c0">DECISION [1]</i><i class="c1">77.24</i><i class="c2">81.71</i><i class="c3">85.94</i><i class="c4">79.03</i><i class="c5">83.48</i><i class="c6">83.68</i><i class="c7">81.85</i></div>
<div class="r" style="top:28px"><i class="c0">CAiDA [14]</i><i class="c1">76.90</i><i class="c2">81.82</i><i class="c3">87.55</i><i class="c4">79.62</i><i class="c5">85.10</i><i class="c6">82.72</i><i class="c7">82.29</i></div>
<div class="r" style="top:39px"><i class="c0">SHOT-best [35]</i><i class="c1">75.43</i><i class="c2">80.28</i><i class="c3">86.63</i><i class="c4">77.88</i><i class="c5">82.37</i><i class="c6">81.22</i><i class="c7">80.64</i></div>
<div class="r" style="top:56px"><i class="c0">MME [50]</i><i class="c1">77.34</i><i class="c2"><b>84.93</b></i><i class="c3">86.17</i><i class="c4">78.65</i><i class="c5">85.33</i><i class="c6">71.28</i><i class="c7">80.62</i></div>
<div class="r" style="top:66px"><i class="c0">ECACL [30]</i><i class="c1">76.27</i><i class="c2">84.54</i><i class="c3">87.06</i><i class="c4">79.95</i><i class="c5">85.82</i><i class="c6">72.66</i><i class="c7">81.05</i></div>
<div class="r" style="top:83px"><i class="c0">Source Only(N)</i><i class="c1">76.54</i><i class="c2">84.48</i><i class="c3">86.36</i><i class="c4">75.66</i><i class="c5">83.94</i><i class="c6">62.59</i><i class="c7">78.26</i></div>
<div class="r" style="top:94px"><i class="c0">Source Only(C)</i><i class="c1">72.09</i><i class="c2">76.45</i><i class="c3">84.55</i><i class="c4">79.07</i><i class="c5">68.25</i><i class="c6">58.39</i><i class="c7">73.13</i></div>
<div class="r" style="top:105px"><i class="c0">Source Only(M)</i><i class="c1">68.04</i><i class="c2">79.38</i><i class="c3">84.17</i><i class="c4">72.41</i><i class="c5">68.71</i><i class="c6">52.60</i><i class="c7">70.88</i></div>
<div class="r" style="top:121px"><i class="c0">Fine-tune(average)</i><i class="c1">73.48</i><i class="c2">80.14</i><i class="c3">85.96</i><i class="c4">74.17</i><i class="c5">74.74</i><i class="c6">60.20</i><i class="c7">74.78</i></div>
<div class="r" style="top:137px"><i class="c0">MetaTeacher(w/o <em>mapping</em>)</i><i class="c1">75.62</i><i class="c2">83.91</i><i class="c3">85.40</i><i class="c4"><b>80.27</b></i><i class="c5">75.13</i><i class="c6">81.77</i><i class="c7">80.35</i></div>
<div class="r" style="top:148px"><i class="c0">MetaTeacher(w/o <em>update</em>)</i><i class="c1">76.75</i><i class="c2">84.30</i><i class="c3">86.67</i><i class="c4">78.59</i><i class="c5">82.31</i><i class="c6">65.84</i><i class="c7">79.08</i></div>
<div class="r" style="top:158px"><i class="c0">MetaTeacher(all)</i><i class="c1"><b>77.65</b></i><i class="c2">79.52</i><i class="c3"><b>88.73</b></i><i class="c4">78.74</i><i class="c5"><b>86.73</b></i><i class="c6"><b>84.78</b></i><i class="c7"><b>82.69</b></i></div>
</div>

<div class="t h" style="left:1093px;top:691px;">Visualization of&nbsp; different methods</div>
<div class="t s" style="left:1096px;top:721px;width:442px;font-size:6.5px;line-height:8px;">
<span class="t" style="left:14px;top:0">Atelectasis</span><span class="t" style="left:90px;top:0">Cardiomegaly</span><span class="t" style="left:173px;top:0">Effusion</span><span class="t" style="left:236px;top:0">Consolidation</span><span class="t" style="left:328px;top:0">Edema</span><span class="t" style="left:390px;top:0">Pneumonia</span></div>
<div class="t s" style="left:1085px;top:760px;font-size:6.5px;transform:rotate(-90deg);">MME</div>
<div class="t s" style="left:1078px;top:838px;font-size:6.5px;transform:rotate(-90deg);">DECISION</div>
<div class="t s" style="left:1072px;top:915px;font-size:6.5px;transform:rotate(-90deg);">MetaTeacher</div>

<div class="tile" style="left:1097px;top:730px;--edge:#3e6b40;background:radial-gradient(ellipse 14px 18px at 30% 65%,#e04a4a,rgba(230,90,80,0) 100%),radial-gradient(ellipse 6px 12px at 75% 55%,#d24848,rgba(210,80,80,0)),radial-gradient(ellipse 12px 22px at 35% 40%,rgba(110,110,50,.6),rgba(0,0,0,0)),radial-gradient(ellipse 12px 22px at 68% 40%,rgba(110,110,50,.6),rgba(0,0,0,0)),radial-gradient(ellipse 10px 10px at 50% 78%,#8ed8cc,rgba(0,0,0,0)),linear-gradient(#a9a456,#d8d274 40%,#ecd584);"><span class="tl">Atelectasis 24.181791%</span></div>
<div class="tile" style="left:1170px;top:730px;--edge:#3e6b40;background:radial-gradient(ellipse 10px 14px at 60% 58%,#e0504e,rgba(0,0,0,0)),radial-gradient(ellipse 10px 16px at 50% 88%,#f0b070,rgba(0,0,0,0)),radial-gradient(ellipse 12px 22px at 35% 40%,rgba(110,110,50,.6),rgba(0,0,0,0)),radial-gradient(ellipse 12px 22px at 68% 40%,rgba(110,110,50,.6),rgba(0,0,0,0)),radial-gradient(ellipse 14px 20px at 85% 65%,#7ccdd0,rgba(0,0,0,0)),linear-gradient(#a9a456,#d8d274 40%,#ead47e);"><span class="tl">Cardiomegaly 16.974808%</span></div>
<div class="tile" style="left:1243px;top:730px;--edge:#3e6b40;background:radial-gradient(ellipse 7px 12px at 76% 62%,#d83c4c,rgba(0,0,0,0)),radial-gradient(ellipse 10px 7px at 18% 70%,#7ed6de,rgba(0,0,0,0)),radial-gradient(ellipse 8px 10px at 55% 58%,#8ed8d8,rgba(0,0,0,0)),radial-gradient(ellipse 12px 22px at 35% 40%,rgba(120,110,50,.5),rgba(0,0,0,0)),radial-gradient(ellipse 12px 22px at 68% 40%,rgba(120,110,50,.5),rgba(0,0,0,0)),radial-gradient(ellipse 30px 20px at 50% 90%,#f0b070,rgba(0,0,0,0)),linear-gradient(#b8a458,#e6c874 40%,#efc47a);"><span class="tl">Effusion 26.978887%</span></div>
<div class="tile" style="left:1316px;top:730px;--edge:#3e6b40;background:radial-gradient(ellipse 6px 8px at 58% 55%,#6a8ad8,rgba(0,0,0,0)),radial-gradient(ellipse 26px 24px at 50% 52%,#7ed2d6,rgba(0,0,0,0)),radial-gradient(ellipse 12px 22px at 35% 40%,rgba(100,110,50,.5),rgba(0,0,0,0)),radial-gradient(ellipse 12px 22px at 68% 40%,rgba(100,110,50,.5),rgba(0,0,0,0)),linear-gradient(#a9a456,#d2d07a 40%,#e2d884);"><span class="tl">Consolidation 4.784109%</span></div>
<div class="tile" style="left:1389px;top:730px;--edge:#1b3c6a;background:radial-gradient(ellipse 9px 12px at 20% 55%,#5040c0,rgba(0,0,0,0)),radial-gradient(ellipse 8px 18px at 88% 55%,#2a2a90,rgba(0,0,0,0)),radial-gradient(ellipse 22px 22px at 55% 45%,#78c8d8,rgba(0,0,0,0)),radial-gradient(ellipse 12px 22px at 35% 40%,rgba(100,110,50,.5),rgba(0,0,0,0)),linear-gradient(#a9a456,#cfd07a 40%,#e2d884);"><span class="tl">Edema 2.262531%</span></div>
<div class="tile" style="left:1462px;top:730px;--edge:#3e6b40;background:radial-gradient(ellipse 9px 14px at 8% 65%,#e0504a,rgba(0,0,0,0)),radial-gradient(ellipse 24px 26px at 60% 55%,#84d4d8,rgba(0,0,0,0)),radial-gradient(ellipse 12px 22px at 35% 40%,rgba(100,110,50,.5),rgba(0,0,0,0)),radial-gradient(ellipse 12px 22px at 68% 40%,rgba(100,110,50,.5),rgba(0,0,0,0)),linear-gradient(#a9a456,#d6d078 40%,#e8d884);"><span class="tl">Pneumonia 5.671095%</span></div>

<div class="tile" style="left:1097px;top:807px;--edge:#3e6b40;background:radial-gradient(ellipse 12px 12px at 22% 68%,#e06048,rgba(0,0,0,0)),radial-gradient(ellipse 6px 12px at 78% 62%,#d44a48,rgba(0,0,0,0)),radial-gradient(ellipse 20px 20px at 55% 62%,#9edacf,rgba(0,0,0,0)),radial-gradient(ellipse 12px 22px at 35% 38%,rgba(110,110,50,.55),rgba(0,0,0,0)),radial-gradient(ellipse 12px 22px at 68% 38%,rgba(110,110,50,.55),rgba(0,0,0,0)),linear-gradient(#a9a456,#d4d27a 40%,#e4e288);"><span class="tl">Atelectasis 30.475372%</span></div>
<div class="tile" style="left:1170px;top:807px;--edge:#3e6b40;background:radial-gradient(ellipse 8px 14px at 58% 57%,#dc4848,rgba(0,0,0,0)),radial-gradient(ellipse 14px 20px at 58% 57%,#e8c468,rgba(0,0,0,0)),radial-gradient(ellipse 30px 26px at 40% 65%,#9edacf,rgba(0,0,0,0)),radial-gradient(ellipse 12px 22px at 35% 38%,rgba(110,110,50,.55),rgba(0,0,0,0)),radial-gradient(ellipse 12px 22px at 68% 38%,rgba(110,110,50,.55),rgba(0,0,0,0)),linear-gradient(#a9a456,#d4d27a 40%,#e4e288);"><span class="tl">Cardiomegaly 21.235174%</span></div>
<div class="tile" style="left:1243px;top:807px;--edge:#3e6b40;background:radial-gradient(ellipse 6px 12px at 79% 62%,#d43c48,rgba(0,0,0,0)),radial-gradient(ellipse 30px 24px at 40% 65%,#8ed6d4,rgba(0,0,0,0)),radial-gradient(ellipse 12px 22px at 35% 38%,rgba(110,110,50,.55),rgba(0,0,0,0)),radial-gradient(ellipse 12px 22px at 68% 38%,rgba(110,110,50,.55),rgba(0,0,0,0)),linear-gradient(#a9a456,#d4d27a 40%,#e4e288);"><span class="tl">Effusion 23.479656%</span></div>
<div class="tile" style="left:1316px;top:807px;--edge:#3e6b40;background:radial-gradient(ellipse 8px 14px at 58% 62%,#6a8ad8,rgba(0,0,0,0)),radial-gradient(ellipse 34px 30px at 50% 58%,#7cd0d8,rgba(0,0,0,0)),radial-gradient(ellipse 12px 22px at 35% 38%,rgba(90,110,60,.5),rgba(0,0,0,0)),linear-gradient(#a9a456,#cccf80 40%,#dfe08a);"><span class="tl">Consolidation 3.120143%</span></div>
<div class="tile" style="left:1389px;top:807px;--edge:#2d5060;background:radial-gradient(ellipse 9px 14px at 25% 58%,#5448c8,rgba(0,0,0,0)),radial-gradient(ellipse 10px 18px at 75% 55%,#3a3aa8,rgba(0,0,0,0)),radial-gradient(ellipse 34px 30px at 50% 55%,#78c8d8,rgba(0,0,0,0)),linear-gradient(#a9a456,#cccf80 40%,#dfe08a);"><span class="tl">Edema 1.990920%</span></div>
<div class="tile" style="left:1462px;top:807px;--edge:#3e6b40;background:radial-gradient(ellipse 8px 10px at 10% 72%,#e6d060,rgba(0,0,0,0)),radial-gradient(ellipse 34px 30px at 55% 55%,#82d0d8,rgba(0,0,0,0)),radial-gradient(ellipse 12px 22px at 35% 38%,rgba(90,110,60,.5),rgba(0,0,0,0)),linear-gradient(#a9a456,#cccf80 40%,#dfe08a);"><span class="tl">Pneumonia 3.095850%</span></div>

<div class="tile" style="left:1097px;top:884px;--edge:#1c3470;background:radial-gradient(ellipse 8px 8px at 20% 68%,#e8e070,rgba(0,0,0,0)),radial-gradient(ellipse 7px 9px at 85% 68%,#e0d870,rgba(0,0,0,0)),radial-gradient(ellipse 12px 22px at 35% 38%,rgba(30,80,110,.45),rgba(0,0,0,0)),radial-gradient(ellipse 12px 22px at 68% 38%,rgba(30,80,110,.45),rgba(0,0,0,0)),linear-gradient(#4c98c0,#6cc4dc 40%,#80e0e8);"><span class="tl">Atelectasis 71.781342%</span></div>
<div class="tile" style="left:1170px;top:884px;--edge:#1c3470;background:radial-gradient(ellipse 6px 9px at 50% 57%,#e8d870,rgba(0,0,0,0)),radial-gradient(ellipse 10px 18px at 30% 70%,#7080d8,rgba(0,0,0,0)),radial-gradient(ellipse 12px 22px at 35% 38%,rgba(30,80,110,.45),rgba(0,0,0,0)),radial-gradient(ellipse 12px 22px at 68% 38%,rgba(30,80,110,.45),rgba(0,0,0,0)),linear-gradient(#4c98c0,#6cc4dc 40%,#80e0e8);"><span class="tl">Cardiomegaly 10.274759%</span></div>
<div class="tile" style="left:1243px;top:884px;--edge:#1c3470;background:radial-gradient(ellipse 7px 9px at 80% 70%,#d83040,rgba(0,0,0,0)),radial-gradient(ellipse 11px 14px at 80% 70%,#f0d060,rgba(0,0,0,0)),radial-gradient(ellipse 12px 22px at 35% 38%,rgba(30,80,110,.45),rgba(0,0,0,0)),radial-gradient(ellipse 12px 22px at 68% 38%,rgba(30,80,110,.45),rgba(0,0,0,0)),linear-gradient(#4c98c0,#6cc4dc 40%,#80e0e8);"><span class="tl">Effusion 64.593826%</span></div>
<div class="tile" style="left:1316px;top:884px;--edge:#142a70;background:radial-gradient(ellipse 28px 26px at 55% 65%,#6a84d8,rgba(0,0,0,0)),radial-gradient(ellipse 12px 22px at 35% 38%,rgba(30,80,110,.45),rgba(0,0,0,0)),linear-gradient(#4c90c4,#68b4dc 40%,#7ab8e4);"><span class="tl">Consolidation 0.068113%</span></div>
<div class="tile" style="left:1389px;top:884px;--edge:#142a70;background:radial-gradient(ellipse 10px 14px at 30% 62%,#5a4ac4,rgba(0,0,0,0)),radial-gradient(ellipse 28px 26px at 55% 65%,#6a84d8,rgba(0,0,0,0)),radial-gradient(ellipse 12px 22px at 35% 38%,rgba(30,80,110,.45),rgba(0,0,0,0)),linear-gradient(#4c90c4,#68b4dc 40%,#7ab8e4);"><span class="tl">Edema 0.041265%</span></div>
<div class="tile" style="left:1462px;top:884px;--edge:#142a70;background:radial-gradient(ellipse 28px 26px at 55% 70%,#6a84d8,rgba(0,0,0,0)),radial-gradient(ellipse 12px 22px at 35% 38%,rgba(30,80,110,.45),rgba(0,0,0,0)),linear-gradient(#4c90c4,#68b4dc 40%,#7ab8e4);"><span class="tl">Pneumonia 0.032210%</span></div>

</div></body></html>
